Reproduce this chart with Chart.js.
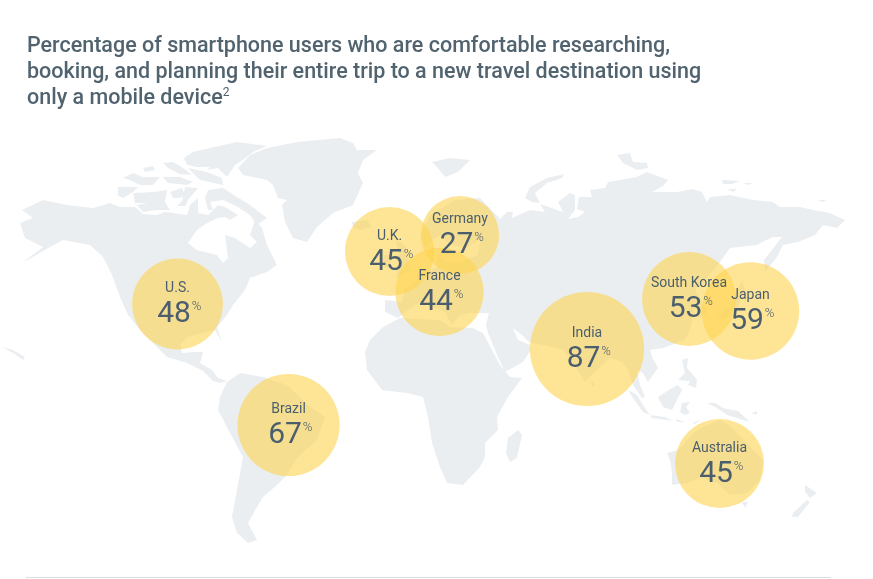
<!DOCTYPE html>
<html>
<head>
<meta charset="utf-8">
<script src="https://cdn.jsdelivr.net/npm/chart.js@4"></script>
<style>
    body { margin: 0; background: #fff; }
    #wrap { position: relative; width: 873px; height: 579px; overflow: hidden; }
    #title {
        position: absolute; left: 27px; top: 32px; width: 760px;
        font: 500 21.5px/25.8px Roboto, sans-serif; color: #51636f;
    }
    #title sup { font-size: 12px; line-height: 0; font-weight: 400; vertical-align: 8px; }
    #rule { position: absolute; left: 26px; top: 577px; width: 805px; height: 1px; background: #d9dee2; }
    #mapChart { position: absolute; left: 0; top: 0; }
</style>
</head>
<body>
<div id="wrap">
    <canvas id="mapChart" width="873" height="579"></canvas>
    <div id="title">Percentage of smartphone users who are comfortable researching,<br>booking, and planning their entire trip to a new travel destination using<br>only a mobile device<sup>2</sup></div>
    <div id="rule"></div>
</div>
<script>
// survey values
const countries = ['U.S.', 'U.K.', 'Germany', 'France', 'India', 'South Korea', 'Japan', 'Brazil', 'Australia'];
const percents = [48, 45, 27, 44, 87, 53, 59, 67, 45];
// where each bubble sits on the map
const mapX = [177.5, 389.5, 460, 439.5, 587, 689, 750.5, 288.5, 719.5];
const mapY = [304, 251.5, 235, 292, 349, 299, 311, 425, 463.5];

// land outlines
const northAmerica = [[22,210],[43,200],[67,205],[93,208],[110,203],[120,207],[135,207],[143,214],[157,215],[165,212],[187,215],[190,205],[198,198],[198,213],[208,215],[218,205],[225,207],[238,215],[230,220],[225,217],[218,218],[207,223],[197,230],[188,243],[197,250],[217,255],[223,263],[228,258],[225,235],[235,238],[250,248],[257,242],[250,235],[255,220],[262,228],[267,245],[277,265],[267,272],[250,278],[245,290],[233,305],[227,315],[217,327],[222,342],[215,330],[203,333],[187,337],[180,345],[182,353],[193,352],[203,352],[200,363],[212,370],[218,378],[227,381],[220,383],[213,381],[203,371],[187,363],[167,357],[153,343],[140,330],[128,315],[120,297],[112,275],[103,257],[90,245],[63,240],[50,247],[22,263],[43,247],[25,238],[20,223],[33,218]];
const southAmerica = [[220,397],[227,382],[240,373],[263,377],[287,385],[310,407],[325,417],[317,440],[297,458],[287,475],[277,485],[263,497],[257,507],[248,523],[257,540],[248,543],[237,533],[232,517],[237,490],[243,457],[230,433],[218,410]];
const baffin = [[208,190],[223,188],[237,197],[250,205],[267,218],[257,225],[250,215],[238,207],[223,200],[210,202],[213,210],[208,210],[205,198]];
const banks = [[118,187],[138,187],[133,192],[123,198],[117,195]];
const victoria = [[133,193],[153,192],[167,190],[165,202],[170,210],[157,210],[143,212],[137,205],[147,203],[135,203]];
const somerset = [[170,192],[182,188],[185,195],[180,198],[173,198]];
const boothia = [[185,187],[198,188],[188,200],[185,206],[177,206],[182,201]];
const melville = [[123,178],[133,173],[143,177],[160,177],[153,185],[140,185],[130,180]];
const bathurst = [[163,177],[180,177],[193,182],[187,185],[168,183]];
const devon = [[188,168],[207,172],[222,178],[223,185],[200,180]];
const axelHeiberg = [[163,163],[173,162],[183,168],[192,175],[180,174],[168,168]];
const ringnes = [[143,168],[153,166],[155,170],[145,172]];
const ellesmere = [[184,158],[193,152],[210,148],[237,142],[267,146],[253,152],[243,160],[235,165],[227,177],[218,168],[207,170],[210,167],[197,167],[187,165]];
const greenland = [[238,168],[250,155],[267,148],[297,142],[340,138],[353,143],[357,150],[377,150],[363,160],[358,173],[363,183],[353,205],[333,213],[317,227],[307,242],[293,238],[285,222],[282,205],[287,200],[278,198],[273,185],[267,180],[243,175]];
const iceland = [[352,222],[367,220],[372,227],[360,230],[353,227]];
const hawaii = [[2,347],[13,350],[25,357],[23,360],[13,353]];
const eurasia = [[385,312],[385,300],[402,302],[405,288],[415,282],[425,270],[437,268],[437,255],[445,262],[460,262],[478,255],[480,240],[465,248],[450,245],[440,235],[425,245],[420,235],[430,215],[455,200],[480,198],[500,219],[507,212],[513,212],[512,218],[530,210],[545,212],[540,204],[563,212],[558,202],[570,193],[575,195],[575,210],[568,219],[578,217],[585,212],[577,209],[579,197],[592,197],[590,190],[605,188],[608,182],[637,177],[647,172],[668,180],[663,186],[652,192],[677,192],[692,189],[702,192],[707,202],[710,197],[730,195],[753,200],[773,202],[780,207],[800,207],[813,210],[830,213],[845,220],[837,228],[823,225],[815,235],[798,242],[783,245],[777,257],[765,272],[764,260],[782,237],[773,237],[762,242],[757,245],[730,248],[720,262],[703,283],[695,290],[700,300],[708,312],[700,318],[695,305],[690,330],[685,340],[663,348],[650,350],[652,357],[658,368],[648,382],[643,373],[637,370],[640,385],[645,397],[642,398],[633,385],[628,370],[622,362],[610,358],[597,370],[585,382],[573,363],[563,350],[543,345],[530,343],[522,335],[513,328],[518,340],[530,345],[531,350],[523,362],[505,372],[497,355],[488,333],[486,325],[489,313],[470,313],[460,315],[452,325],[448,318],[440,300],[450,320],[445,312],[420,302],[408,310],[398,318]];
const africa = [[383,327],[400,318],[440,320],[450,327],[473,328],[483,333],[500,365],[510,377],[522,378],[508,397],[497,417],[498,430],[485,443],[485,457],[480,467],[463,485],[447,483],[440,467],[432,443],[428,417],[423,397],[407,393],[382,390],[367,370],[365,352],[370,340]];
const madagascar = [[518,430],[522,435],[517,458],[510,462],[506,453],[508,438]];
const australia = [[667,453],[678,450],[693,433],[703,427],[720,420],[732,427],[747,443],[763,460],[760,480],[747,493],[730,495],[717,483],[700,478],[687,483],[672,485],[672,473],[670,460]];
const tasmania = [[742,502],[748,502],[745,508]];
const nzNorth = [[805,485],[817,493],[810,498],[805,492]];
const nzSouth = [[807,500],[793,513],[792,517],[798,517],[810,502]];
const sumatra = [[628,390],[637,395],[645,408],[650,415],[643,412],[633,398]];
const java = [[650,415],[665,417],[673,421],[660,419],[652,418]];
const sunda = [[675,419],[685,422],[678,422]];
const borneo = [[658,397],[672,388],[678,385],[682,390],[678,398],[672,410],[663,407]];
const sulawesi = [[682,403],[690,402],[686,407],[690,413],[685,415],[680,412]];
const newGuinea = [[707,403],[715,403],[723,408],[738,411],[750,422],[743,420],[727,415],[717,408]];
const newBritain = [[750,414],[757,411],[757,414]];
const timor = [[692,423],[700,420],[695,424]];
const philippines = [[682,360],[688,358],[687,368],[693,375],[697,380],[696,388],[688,385],[690,381],[678,380],[685,373]];
const honshu = [[717,317],[730,307],[737,290],[742,280],[745,290],[738,307],[723,320]];
const sriLanka = [[591,380],[595,385],[592,387]];
const britain = [[396,240],[405,245],[410,270],[396,278],[400,262]];
const ireland = [[384,255],[392,255],[390,268],[382,266]];
const svalbard = [[432,162],[450,158],[470,160],[458,172],[445,177],[437,167]];
const franzJosef = [[617,155],[630,153],[633,162],[647,163],[648,168],[637,170],[623,163]];
const novayaZemlya = [[525,198],[530,187],[547,178],[564,174],[562,178],[547,183],[535,193],[540,203],[532,202]];
const newSiberia = [[722,180],[740,181],[732,184],[723,184]];
const lyakhov = [[743,183],[753,183],[747,185]];
const severnaya = [[728,189],[737,189],[733,192]];
const wrangel = [[818,200],[827,200],[822,202]];

const landShapes = [northAmerica, southAmerica, baffin, banks, victoria, somerset, boothia, melville, bathurst, devon,
    axelHeiberg, ringnes, ellesmere, greenland, iceland, hawaii,
    eurasia, africa, madagascar, australia, tasmania, nzNorth, nzSouth, sumatra, java, sunda, borneo, sulawesi, newGuinea,
    newBritain, timor, philippines, honshu, sriLanka, britain, ireland, svalbard, franzJosef, novayaZemlya, newSiberia,
    lyakhov, severnaya, wrangel];

function init(){
    createMapChart();
}

function landDataset(shape){
    let points = shape.map(p => ({x: p[0], y: p[1]}));
    points.push(points[0]);
    return {
        type: 'scatter',
        data: points,
        showLine: true,
        fill: 'shape',
        backgroundColor: '#ebeef1',
        borderWidth: 0,
        pointRadius: 0,
        tension: 0,
        order: 2
    };
}

// names and figures on top of the bubbles
const bubbleLabels = {
    id: 'bubbleLabels',
    afterDatasetsDraw(chart){
        const ctx = chart.ctx;
        const bubbles = chart.getDatasetMeta(chart.data.datasets.length - 1).data;
        ctx.save();
        ctx.fillStyle = '#4a5e6e';
        ctx.textBaseline = 'middle';
        bubbles.forEach((el, i) => {
            ctx.textAlign = 'center';
            ctx.font = '400 14px Roboto';
            ctx.fillText(countries[i], el.x, el.y - 15.5);
            ctx.font = '400 30px Roboto';
            let label = String(percents[i]);
            ctx.fillText(label, el.x - 3.5, el.y + 10.5);
            let w = ctx.measureText(label).width;
            ctx.textAlign = 'left';
            ctx.font = '300 13px Roboto';
            ctx.fillText('%', el.x - 3.5 + w / 2 + 1, el.y + 3);
        });
        ctx.restore();
    }
};

function createMapChart(){
    const canvas = document.getElementById('mapChart');
    const bubbleData = percents.map((v, i) => ({x: mapX[i], y: mapY[i], r: 31 + 0.3 * v}));
    new Chart(canvas, {
        type: 'bubble',
        data: {
            datasets: [...landShapes.map(landDataset), {
                data: bubbleData,
                backgroundColor: 'rgba(253, 212, 80, 0.6)',
                borderWidth: 0,
                order: 1
            }]
        },
        options: {
            responsive: false,
            animation: false,
            events: [],
            layout: { padding: 0, autoPadding: false },
            plugins: {
                legend: { display: false },
                tooltip: { enabled: false }
            },
            scales: {
                x: { type: 'linear', display: false, min: 0, max: 873 },
                y: { type: 'linear', display: false, min: 0, max: 579, reverse: true }
            }
        },
        plugins: [bubbleLabels]
    });
}
document.addEventListener('DOMContentLoaded', init);
</script>
</body>
</html>
